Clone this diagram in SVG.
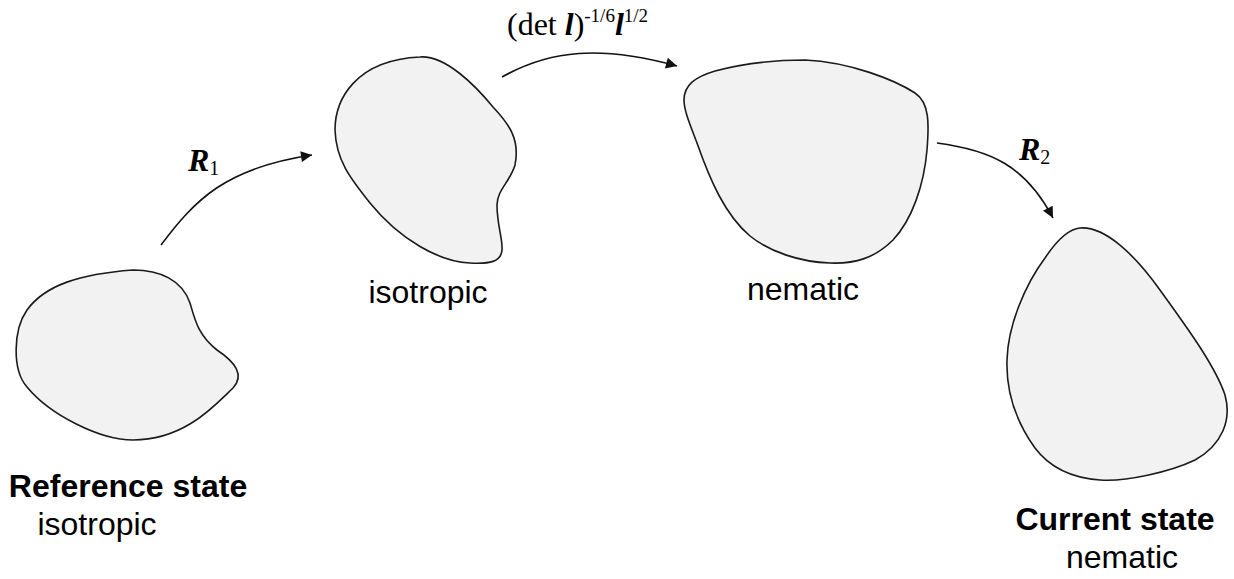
<svg xmlns="http://www.w3.org/2000/svg" width="1234" height="579" viewBox="0 0 1234 579">
<style>
.blob{fill:#f2f2f2;stroke:#1a1a1a;stroke-width:1.6}
.conn{fill:none;stroke:#111;stroke-width:1.6}
.lbl{font-family:"Liberation Sans",Arial,sans-serif;font-size:32px;fill:#000;text-anchor:middle}
.b{font-weight:bold}
.math{font-family:"Liberation Serif","Times New Roman",serif;font-size:32px;fill:#000}
.bi{font-weight:bold;font-style:italic}
.sup{font-size:19px}
</style>
<defs>
<marker id="ah" viewBox="0 0 10 10" refX="10" refY="5" markerWidth="17" markerHeight="11" markerUnits="userSpaceOnUse" orient="auto">
<path d="M0,0 L10,5 L0,10 Z" fill="#111"/>
</marker>
</defs>
<rect width="1234" height="579" fill="#fff"/>
<g id="connectors">
<path class="conn" d="M161,245 C195,200 225,168 312,155" marker-end="url(#ah)"/>
<path class="conn" d="M502,77 C550,50 600,45 677,66" marker-end="url(#ah)"/>
<path class="conn" d="M937,143 C990,150 1025,165 1053,218" marker-end="url(#ah)"/>
</g>
<g id="reference">
<path class="blob" d="M133,270 C160,270 182,280 190,303 C195,320 198,335 217,350 C235,362 245,375 233,388 C215,405 185,440 133,440 C100,440 50,415 27,387 C12,370 13,330 27,310 C45,285 80,274 133,270 Z"/>
<text class="lbl b" x="128" y="497">Reference state</text>
<text class="lbl" x="97" y="535">isotropic</text>
</g>
<g id="isotropic">
<path class="blob" d="M420,57 C445,55 475,85 493,107 C510,125 520,140 515,165 C510,182 497,190 497,205 C497,225 503,240 502,250 C501,262 490,264 470,263 C440,262 400,240 370,203 C350,178 336,160 335,130 C335,100 355,60 420,57 Z"/>
<text class="lbl" x="428" y="303">isotropic</text>
</g>
<g id="nematic">
<path class="blob" d="M684,100 C684,85 695,77 715,71 C745,63 780,60 805,60 C850,62 895,80 915,93 C930,103 929,125 927,150 C924,185 912,220 893,240 C875,258 855,264 830,263 C800,262 770,252 750,236 C725,215 710,180 697,143 C689,122 684,110 684,100 Z"/>
<text class="lbl" x="803" y="300">nematic</text>
</g>
<g id="current">
<path class="blob" d="M1080,228 C1105,226 1135,255 1160,290 C1185,325 1215,365 1225,395 C1232,420 1222,445 1195,460 C1170,472 1125,482 1100,480 C1072,478 1050,468 1035,448 C1015,420 1006,390 1007,360 C1008,325 1025,285 1045,258 C1057,240 1068,229 1080,228 Z"/>
<text class="lbl b" x="1115" y="530">Current state</text>
<text class="lbl" x="1122" y="568">nematic</text>
</g>
<g id="labels">
<text class="math" x="188" y="171"><tspan class="bi">R</tspan><tspan font-size="20" dy="4">1</tspan></text>
<text class="math" x="507" y="35">(det <tspan class="bi">l</tspan>)<tspan class="sup" dy="-13">-1/6</tspan><tspan class="bi" dy="13">l</tspan><tspan class="sup" dy="-13">1/2</tspan></text>
<text class="math" x="1019" y="160"><tspan class="bi">R</tspan><tspan font-size="20" dy="4">2</tspan></text>
</g>
</svg>
